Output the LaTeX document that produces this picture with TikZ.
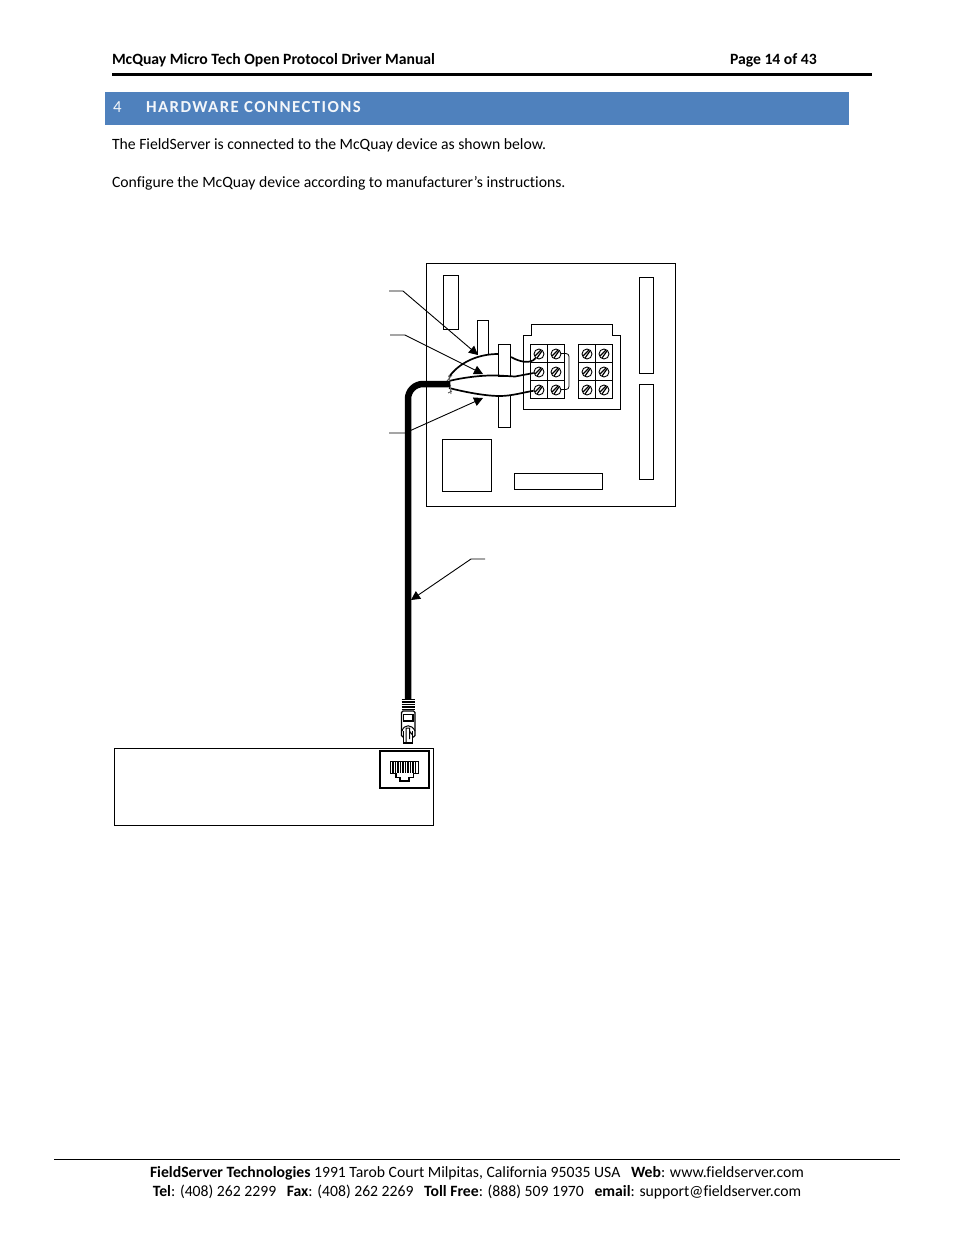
\documentclass[tikz,border=0pt]{standalone}
\usepackage{fontspec}
\setmainfont[Ligatures=NoCommon]{Carlito}
\newfontfamily\headfont[LetterSpace=8.5,Ligatures=NoCommon]{Carlito}
\usetikzlibrary{arrows.meta}
\definecolor{band}{HTML}{4F81BD}
\tikzset{
  txt/.style={anchor=base west,inner sep=0pt,outer sep=0pt,font=\fontsize{15.7}{18}\selectfont},
  foot/.style={anchor=base,inner sep=0pt,outer sep=0pt,font=\fontsize{15.7}{18}\selectfont},
  head/.style={anchor=base west,inner sep=0pt,outer sep=0pt,text=white!93!band,font=\fontsize{16.8}{19}\headfont},
  part/.style={draw=black,line width=0.9pt,fill=white},
  thin part/.style={draw=black,line width=0.8pt},
  wire/.style={draw=black,line width=1.7pt},
  leader/.style={draw=black,line width=0.9pt,-{Triangle[length=9pt,width=9pt]}},
  screw/.style={circle,draw=black,line width=0.9pt,fill=white,minimum size=10pt,inner sep=0pt,path picture={
     \draw[line width=1.2pt] ([xshift=-2pt,yshift=-4pt]path picture bounding box.center) -- ([xshift=3pt,yshift=3pt]path picture bounding box.center);
     \draw[line width=1.2pt] ([xshift=-4pt,yshift=-2pt]path picture bounding box.center) -- ([xshift=2pt,yshift=4pt]path picture bounding box.center);}},
}
\begin{document}
\begin{tikzpicture}[x=1pt,y=-1pt]
\useasboundingbox (0,0) rectangle (954,1235);
\fill[white] (0,0) rectangle (954,1235);
% header
\node[txt] (title) at (112,64) {\textbf{McQuay Micro Tech Open Protocol Driver Manual}};
\node[txt] (page) at (730,64) {\textbf{Page 14 of 43}};
\coordinate (ruleL) at (112,74.5); \coordinate (ruleR) at (872,74.5);
\draw[line width=3pt] (ruleL) -- (ruleR);
\fill[band] (105,92) rectangle (849,125);
\node[head] (secnum) at (113,112) {4};
\node[head] (sectitle) at (146,112) {\textbf{HARDWARE CONNECTIONS}};
\node[txt] (p1) at (112,149) {The FieldServer is connected to the McQuay device as shown below.};
\node[txt] (p2) at (112,187) {Configure the McQuay device according to manufacturer’s instructions.};
% board
\draw[thin part] (426.5,263.5) rectangle (675.5,506.5);
\draw[thin part] (443.5,275.5) rectangle (458.5,329.5);
\draw[thin part] (639.5,277.5) rectangle (653.5,373.5);
\draw[thin part] (639.5,384.5) rectangle (653.5,479.5);
\draw[thin part] (442.5,439.5) rectangle (491.5,491.5);
\draw[thin part] (514.5,473.5) rectangle (602.5,489.5);
\draw[thin part] (477,355) -- (477,320.5) -- (488.5,320.5) -- (488.5,355);
% terminal block
\draw[thin part] (523.5,335.5) -- (531.5,335.5) -- (531.5,324.5) -- (612.5,324.5) -- (612.5,335.5) -- (620.5,335.5) -- (620.5,409.5) -- (523.5,409.5) -- cycle;
\draw[thin part] (530.5,344.5) rectangle (564.5,398.5);
\draw[thin part] (547.5,344.5) -- (547.5,398.5) (530.5,362.5) -- (564.5,362.5) (530.5,380.5) -- (564.5,380.5);
\draw[thin part] (578.5,344.5) rectangle (612.5,398.5);
\draw[thin part] (595.5,344.5) -- (595.5,398.5) (578.5,362.5) -- (612.5,362.5) (578.5,380.5) -- (612.5,380.5);
% jumper
\draw[line width=0.8pt,rounded corners=3pt] (557,353.5) -- (569,353.5) -- (569,389.5) -- (557,389.5);
% screws
\foreach \nm/\xx/\yy in {a/539/354,b/556/354,c/539/372,d/556/372,e/539/390,f/556/390,g/587/354,h/604/354,i/587/372,j/604/372,k/587/390,l/604/390}
  \node[screw] (s\nm) at (\xx,\yy) {};
% risers
\draw[part] (498.5,344.5) rectangle (510.5,376.5);
\draw[thin part] (498.5,396) -- (498.5,427.5) -- (510.5,427.5) -- (510.5,396);
% wires
\coordinate (fan1) at (449,377);
\coordinate (fan2) at (449,381);
\coordinate (fan3) at (449,388);
\draw[wire] (fan1) .. controls (458,364) and (476,354) .. (498,354);
\draw[wire] (511,357) .. controls (518,361) and (530,365) .. (sa);
\draw[wire] (fan2) .. controls (465,377) and (485,375) .. (498,375.5) -- (515,376.5) -- (sc);
\draw[wire] (fan3) .. controls (465,392) and (485,396) .. (500,396) .. controls (512,396) and (525,392) .. (se);
\draw[line width=1pt,black!55] (449,375) -- (451,394);
\draw[line width=0.8pt,black!70] (452,375) -- (447,381) (451,386) -- (447,384) (452,391) -- (448,393);
% cable
\coordinate (cabA) at (450,384);
\coordinate (cabB) at (408,700);
\draw[line width=6.5pt,rounded corners=15pt] (cabA) -- (408,384) -- (cabB);
% leaders
\coordinate (l1a) at (389,291); \coordinate (l1b) at (403,291); \coordinate (l1c) at (478,355);
\coordinate (l2a) at (390,335); \coordinate (l2b) at (405,335); \coordinate (l2c) at (483,374);
\coordinate (l3a) at (389,433); \coordinate (l3b) at (405,433); \coordinate (l3c) at (483,398);
\coordinate (l4a) at (485,559); \coordinate (l4b) at (471,559); \coordinate (l4c) at (411,600);
\draw[leader] (l1a) -- (l1b) -- (l1c);
\draw[leader] (l2a) -- (l2b) -- (l2c);
\draw[leader] (l3a) -- (l3b) -- (l3c);
\draw[leader] (l4a) -- (l4b) -- (l4c);
% RJ45 plug
\fill[white] (401,699) rectangle (416,744);
\foreach \yy in {699.5,702,704.5,707,709.5}
  \draw[line width=1.3pt] (401.5,\yy) -- (414.5,\yy);
\draw[line width=1.2pt,rounded corners=1.5pt] (401.5,711) -- (401.5,737) -- (415,737) -- (415,711) -- cycle;
\draw[line width=1.2pt] (403.5,714.5) rectangle (413,721);
\draw[line width=1pt] (402,731) .. controls (404,724) and (412,724) .. (415,731);
\draw[line width=1.2pt,fill=white] (403.5,731) -- (403.5,743) -- (412.5,743) -- (412.5,731);
\draw[line width=1pt] (406,743) -- (406,728) -- (409.5,728) -- (409.5,739) (409.5,731) -- (412.5,735);
% device
\draw[thin part] (114.5,748.5) rectangle (433.5,825.5);
\draw[line width=2pt] (380,751) rectangle (428.5,787.5);
\draw[line width=1.1pt] (390.5,761.5) -- (418.5,761.5) -- (418.5,773.5) -- (413.5,773.5) -- (413.5,777.5) -- (409,777.5) -- (409,781) -- (400,781) -- (400,777.5) -- (396,777.5) -- (396,773.5) -- (390.5,773.5) -- cycle;
\foreach \xx in {393,395.5,398,400.5,403,405.5,408,410.5,413,415.5}
  \draw[line width=1.4pt] (\xx,762) -- (\xx,772.5);
% footer
\coordinate (footL) at (54,1159.5); \coordinate (footR) at (900,1159.5);
\draw[line width=0.8pt] (footL) -- (footR);
\node[foot] (f1) at (477,1177) {\textbf{FieldServer Technologies} 1991 Tarob Court Milpitas, California 95035 USA\ \ \ \textbf{Web}: www.fieldserver.com};
\node[foot] (f2) at (477,1196) {\textbf{Tel}: (408) 262 2299\ \ \ \textbf{Fax}: (408) 262 2269\ \ \ \textbf{Toll Free}: (888) 509 1970\ \ \ \textbf{email}: support@fieldserver.com};
\end{tikzpicture}
\end{document}
